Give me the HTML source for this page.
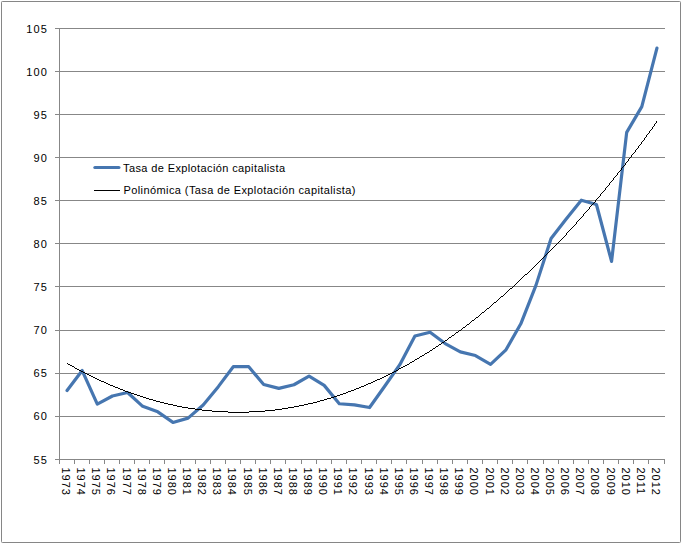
<!DOCTYPE html>
<html><head><meta charset="utf-8"><style>
html,body{margin:0;padding:0;background:#fff;}
svg{display:block;}
text{font-family:"Liberation Sans", Arial, sans-serif;font-size:11px;fill:#000000;}
</style></head><body>
<svg width="682" height="544" viewBox="0 0 682 544">
<rect x="0" y="0" width="682" height="544" fill="#fff"/>
<rect x="1.5" y="1.5" width="679" height="541" rx="0.8" fill="#fff" stroke="#868686" stroke-width="1"/>
<line x1="55" y1="28.5" x2="665.0" y2="28.5" stroke="#878787" stroke-width="1"/>
<text x="47.9" y="33" text-anchor="end" letter-spacing="1.1">105</text>
<line x1="55" y1="71.5" x2="665.0" y2="71.5" stroke="#878787" stroke-width="1"/>
<text x="47.9" y="76" text-anchor="end" letter-spacing="1.1">100</text>
<line x1="55" y1="114.5" x2="665.0" y2="114.5" stroke="#878787" stroke-width="1"/>
<text x="47.9" y="119" text-anchor="end" letter-spacing="1.1">95</text>
<line x1="55" y1="157.5" x2="665.0" y2="157.5" stroke="#878787" stroke-width="1"/>
<text x="47.9" y="162" text-anchor="end" letter-spacing="1.1">90</text>
<line x1="55" y1="200.5" x2="665.0" y2="200.5" stroke="#878787" stroke-width="1"/>
<text x="47.9" y="205" text-anchor="end" letter-spacing="1.1">85</text>
<line x1="55" y1="243.5" x2="665.0" y2="243.5" stroke="#878787" stroke-width="1"/>
<text x="47.9" y="248" text-anchor="end" letter-spacing="1.1">80</text>
<line x1="55" y1="286.5" x2="665.0" y2="286.5" stroke="#878787" stroke-width="1"/>
<text x="47.9" y="291" text-anchor="end" letter-spacing="1.1">75</text>
<line x1="55" y1="330.5" x2="665.0" y2="330.5" stroke="#878787" stroke-width="1"/>
<text x="47.9" y="334" text-anchor="end" letter-spacing="1.1">70</text>
<line x1="55" y1="373.5" x2="665.0" y2="373.5" stroke="#878787" stroke-width="1"/>
<text x="47.9" y="377" text-anchor="end" letter-spacing="1.1">65</text>
<line x1="55" y1="416.5" x2="665.0" y2="416.5" stroke="#878787" stroke-width="1"/>
<text x="47.9" y="420" text-anchor="end" letter-spacing="1.1">60</text>
<line x1="55" y1="459.5" x2="665.0" y2="459.5" stroke="#878787" stroke-width="1"/>
<text x="47.9" y="464" text-anchor="end" letter-spacing="1.1">55</text>
<line x1="59.5" y1="28.0" x2="59.5" y2="460.0" stroke="#878787" stroke-width="1"/>
<line x1="59.5" y1="459.5" x2="59.5" y2="464" stroke="#878787" stroke-width="1"/>
<line x1="74.5" y1="459.5" x2="74.5" y2="464" stroke="#878787" stroke-width="1"/>
<line x1="89.5" y1="459.5" x2="89.5" y2="464" stroke="#878787" stroke-width="1"/>
<line x1="104.5" y1="459.5" x2="104.5" y2="464" stroke="#878787" stroke-width="1"/>
<line x1="119.5" y1="459.5" x2="119.5" y2="464" stroke="#878787" stroke-width="1"/>
<line x1="134.5" y1="459.5" x2="134.5" y2="464" stroke="#878787" stroke-width="1"/>
<line x1="149.5" y1="459.5" x2="149.5" y2="464" stroke="#878787" stroke-width="1"/>
<line x1="164.5" y1="459.5" x2="164.5" y2="464" stroke="#878787" stroke-width="1"/>
<line x1="180.5" y1="459.5" x2="180.5" y2="464" stroke="#878787" stroke-width="1"/>
<line x1="195.5" y1="459.5" x2="195.5" y2="464" stroke="#878787" stroke-width="1"/>
<line x1="210.5" y1="459.5" x2="210.5" y2="464" stroke="#878787" stroke-width="1"/>
<line x1="225.5" y1="459.5" x2="225.5" y2="464" stroke="#878787" stroke-width="1"/>
<line x1="240.5" y1="459.5" x2="240.5" y2="464" stroke="#878787" stroke-width="1"/>
<line x1="255.5" y1="459.5" x2="255.5" y2="464" stroke="#878787" stroke-width="1"/>
<line x1="270.5" y1="459.5" x2="270.5" y2="464" stroke="#878787" stroke-width="1"/>
<line x1="285.5" y1="459.5" x2="285.5" y2="464" stroke="#878787" stroke-width="1"/>
<line x1="301.5" y1="459.5" x2="301.5" y2="464" stroke="#878787" stroke-width="1"/>
<line x1="316.5" y1="459.5" x2="316.5" y2="464" stroke="#878787" stroke-width="1"/>
<line x1="331.5" y1="459.5" x2="331.5" y2="464" stroke="#878787" stroke-width="1"/>
<line x1="346.5" y1="459.5" x2="346.5" y2="464" stroke="#878787" stroke-width="1"/>
<line x1="361.5" y1="459.5" x2="361.5" y2="464" stroke="#878787" stroke-width="1"/>
<line x1="376.5" y1="459.5" x2="376.5" y2="464" stroke="#878787" stroke-width="1"/>
<line x1="391.5" y1="459.5" x2="391.5" y2="464" stroke="#878787" stroke-width="1"/>
<line x1="406.5" y1="459.5" x2="406.5" y2="464" stroke="#878787" stroke-width="1"/>
<line x1="422.5" y1="459.5" x2="422.5" y2="464" stroke="#878787" stroke-width="1"/>
<line x1="437.5" y1="459.5" x2="437.5" y2="464" stroke="#878787" stroke-width="1"/>
<line x1="452.5" y1="459.5" x2="452.5" y2="464" stroke="#878787" stroke-width="1"/>
<line x1="467.5" y1="459.5" x2="467.5" y2="464" stroke="#878787" stroke-width="1"/>
<line x1="482.5" y1="459.5" x2="482.5" y2="464" stroke="#878787" stroke-width="1"/>
<line x1="497.5" y1="459.5" x2="497.5" y2="464" stroke="#878787" stroke-width="1"/>
<line x1="512.5" y1="459.5" x2="512.5" y2="464" stroke="#878787" stroke-width="1"/>
<line x1="527.5" y1="459.5" x2="527.5" y2="464" stroke="#878787" stroke-width="1"/>
<line x1="543.5" y1="459.5" x2="543.5" y2="464" stroke="#878787" stroke-width="1"/>
<line x1="558.5" y1="459.5" x2="558.5" y2="464" stroke="#878787" stroke-width="1"/>
<line x1="573.5" y1="459.5" x2="573.5" y2="464" stroke="#878787" stroke-width="1"/>
<line x1="588.5" y1="459.5" x2="588.5" y2="464" stroke="#878787" stroke-width="1"/>
<line x1="603.5" y1="459.5" x2="603.5" y2="464" stroke="#878787" stroke-width="1"/>
<line x1="618.5" y1="459.5" x2="618.5" y2="464" stroke="#878787" stroke-width="1"/>
<line x1="633.5" y1="459.5" x2="633.5" y2="464" stroke="#878787" stroke-width="1"/>
<line x1="648.5" y1="459.5" x2="648.5" y2="464" stroke="#878787" stroke-width="1"/>
<line x1="664.5" y1="459.5" x2="664.5" y2="464" stroke="#878787" stroke-width="1"/>
<text transform="translate(62.10,467.4) rotate(90)" letter-spacing="1.0">1973</text>
<text transform="translate(77.22,467.4) rotate(90)" letter-spacing="1.0">1974</text>
<text transform="translate(92.35,467.4) rotate(90)" letter-spacing="1.0">1975</text>
<text transform="translate(107.47,467.4) rotate(90)" letter-spacing="1.0">1976</text>
<text transform="translate(122.60,467.4) rotate(90)" letter-spacing="1.0">1977</text>
<text transform="translate(137.72,467.4) rotate(90)" letter-spacing="1.0">1978</text>
<text transform="translate(152.85,467.4) rotate(90)" letter-spacing="1.0">1979</text>
<text transform="translate(167.97,467.4) rotate(90)" letter-spacing="1.0">1980</text>
<text transform="translate(183.10,467.4) rotate(90)" letter-spacing="1.0">1981</text>
<text transform="translate(198.22,467.4) rotate(90)" letter-spacing="1.0">1982</text>
<text transform="translate(213.35,467.4) rotate(90)" letter-spacing="1.0">1983</text>
<text transform="translate(228.47,467.4) rotate(90)" letter-spacing="1.0">1984</text>
<text transform="translate(243.60,467.4) rotate(90)" letter-spacing="1.0">1985</text>
<text transform="translate(258.73,467.4) rotate(90)" letter-spacing="1.0">1986</text>
<text transform="translate(273.85,467.4) rotate(90)" letter-spacing="1.0">1987</text>
<text transform="translate(288.98,467.4) rotate(90)" letter-spacing="1.0">1988</text>
<text transform="translate(304.10,467.4) rotate(90)" letter-spacing="1.0">1989</text>
<text transform="translate(319.23,467.4) rotate(90)" letter-spacing="1.0">1990</text>
<text transform="translate(334.35,467.4) rotate(90)" letter-spacing="1.0">1991</text>
<text transform="translate(349.48,467.4) rotate(90)" letter-spacing="1.0">1992</text>
<text transform="translate(364.60,467.4) rotate(90)" letter-spacing="1.0">1993</text>
<text transform="translate(379.73,467.4) rotate(90)" letter-spacing="1.0">1994</text>
<text transform="translate(394.85,467.4) rotate(90)" letter-spacing="1.0">1995</text>
<text transform="translate(409.98,467.4) rotate(90)" letter-spacing="1.0">1996</text>
<text transform="translate(425.10,467.4) rotate(90)" letter-spacing="1.0">1997</text>
<text transform="translate(440.23,467.4) rotate(90)" letter-spacing="1.0">1998</text>
<text transform="translate(455.35,467.4) rotate(90)" letter-spacing="1.0">1999</text>
<text transform="translate(470.48,467.4) rotate(90)" letter-spacing="1.0">2000</text>
<text transform="translate(485.60,467.4) rotate(90)" letter-spacing="1.0">2001</text>
<text transform="translate(500.73,467.4) rotate(90)" letter-spacing="1.0">2002</text>
<text transform="translate(515.85,467.4) rotate(90)" letter-spacing="1.0">2003</text>
<text transform="translate(530.98,467.4) rotate(90)" letter-spacing="1.0">2004</text>
<text transform="translate(546.10,467.4) rotate(90)" letter-spacing="1.0">2005</text>
<text transform="translate(561.23,467.4) rotate(90)" letter-spacing="1.0">2006</text>
<text transform="translate(576.35,467.4) rotate(90)" letter-spacing="1.0">2007</text>
<text transform="translate(591.48,467.4) rotate(90)" letter-spacing="1.0">2008</text>
<text transform="translate(606.60,467.4) rotate(90)" letter-spacing="1.0">2009</text>
<text transform="translate(621.73,467.4) rotate(90)" letter-spacing="1.0">2010</text>
<text transform="translate(636.85,467.4) rotate(90)" letter-spacing="1.0">2011</text>
<text transform="translate(651.98,467.4) rotate(90)" letter-spacing="1.0">2012</text>
<polyline points="67.06,390.54 82.19,370.54 97.31,404.07 112.44,395.97 127.56,392.52 142.69,406.31 157.81,411.83 172.94,422.43 188.06,418.12 203.19,405.02 218.31,386.66 233.44,366.58 248.56,366.58 263.69,384.51 278.81,388.38 293.94,384.76 309.06,376.06 324.19,385.37 339.31,403.73 354.44,404.94 369.56,407.52 384.69,386.23 399.81,364.68 414.94,336.06 430.06,332.18 445.19,343.56 460.31,351.92 475.44,355.54 490.56,364.34 505.69,350.20 520.81,323.82 535.94,285.38 551.06,238.57 566.19,219.00 581.31,200.21 596.44,204.52 611.56,261.41 626.69,132.37 641.81,106.60 656.94,48.07" fill="none" stroke="#4676B0" stroke-width="3.2" stroke-linejoin="round" stroke-linecap="round"/>
<path d="M656 121h1v1h-1zM656 122h1v1h-1zM655 123h1v1h-1zM654 124h1v1h-1zM654 125h1v1h-1zM653 126h1v1h-1zM652 127h1v1h-1zM652 128h1v1h-1zM651 129h1v1h-1zM650 130h1v1h-1zM649 131h1v1h-1zM649 132h1v1h-1zM648 133h1v1h-1zM647 134h1v1h-1zM646 135h1v1h-1zM646 136h1v1h-1zM645 137h1v1h-1zM644 138h1v1h-1zM644 139h1v1h-1zM643 140h1v1h-1zM642 141h1v1h-1zM641 142h1v1h-1zM641 143h1v1h-1zM640 144h1v1h-1zM639 145h1v1h-1zM638 146h1v1h-1zM638 147h1v1h-1zM637 148h1v1h-1zM636 149h1v1h-1zM635 150h1v1h-1zM635 151h1v1h-1zM634 152h1v1h-1zM633 153h1v1h-1zM632 154h1v1h-1zM631 155h1v1h-1zM631 156h1v1h-1zM630 157h1v1h-1zM629 158h1v1h-1zM628 159h1v1h-1zM628 160h1v1h-1zM627 161h1v1h-1zM626 162h1v1h-1zM625 163h1v1h-1zM625 164h1v1h-1zM624 165h1v1h-1zM623 166h1v1h-1zM622 167h1v1h-1zM621 168h1v1h-1zM621 169h1v1h-1zM620 170h1v1h-1zM619 171h1v1h-1zM618 172h1v1h-1zM617 173h1v1h-1zM617 174h1v1h-1zM616 175h1v1h-1zM615 176h1v1h-1zM614 177h1v1h-1zM613 178h1v1h-1zM613 179h1v1h-1zM612 180h1v1h-1zM611 181h1v1h-1zM610 182h1v1h-1zM609 183h1v1h-1zM609 184h1v1h-1zM608 185h1v1h-1zM607 186h1v1h-1zM606 187h1v1h-1zM605 188h1v1h-1zM605 189h1v1h-1zM604 190h1v1h-1zM603 191h1v1h-1zM602 192h1v1h-1zM601 193h1v1h-1zM600 194h1v1h-1zM600 195h1v1h-1zM599 196h1v1h-1zM598 197h1v1h-1zM597 198h1v1h-1zM596 199h1v1h-1zM595 200h1v1h-1zM595 201h1v1h-1zM594 202h1v1h-1zM593 203h1v1h-1zM592 204h1v1h-1zM591 205h1v1h-1zM590 206h1v1h-1zM589 207h1v1h-1zM589 208h1v1h-1zM588 209h1v1h-1zM587 210h1v1h-1zM586 211h1v1h-1zM585 212h1v1h-1zM584 213h1v1h-1zM583 214h1v1h-1zM583 215h1v1h-1zM582 216h1v1h-1zM581 217h1v1h-1zM580 218h1v1h-1zM579 219h1v1h-1zM578 220h1v1h-1zM577 221h1v1h-1zM576 222h1v1h-1zM576 223h1v1h-1zM575 224h1v1h-1zM574 225h1v1h-1zM573 226h1v1h-1zM572 227h1v1h-1zM571 228h1v1h-1zM570 229h1v1h-1zM569 230h1v1h-1zM568 231h1v1h-1zM567 232h1v1h-1zM566 233h1v1h-1zM566 234h1v1h-1zM565 235h1v1h-1zM564 236h1v1h-1zM563 237h1v1h-1zM562 238h1v1h-1zM561 239h1v1h-1zM560 240h1v1h-1zM559 241h1v1h-1zM558 242h1v1h-1zM557 243h1v1h-1zM556 244h1v1h-1zM555 245h1v1h-1zM554 246h1v1h-1zM553 247h1v1h-1zM552 248h1v1h-1zM551 249h1v1h-1zM550 250h1v1h-1zM549 251h1v1h-1zM548 252h1v1h-1zM547 253h1v1h-1zM546 254h1v1h-1zM545 255h1v1h-1zM544 256h1v1h-1zM543 257h1v1h-1zM542 258h1v1h-1zM541 259h1v1h-1zM540 260h1v1h-1zM539 261h1v1h-1zM538 262h1v1h-1zM537 263h1v1h-1zM536 264h1v1h-1zM535 265h1v1h-1zM534 266h1v1h-1zM533 267h1v1h-1zM532 268h1v1h-1zM531 269h1v1h-1zM530 270h1v1h-1zM529 271h1v1h-1zM528 272h1v1h-1zM527 273h1v1h-1zM525 274h2v1h-2zM524 275h1v1h-1zM523 276h1v1h-1zM522 277h1v1h-1zM521 278h1v1h-1zM520 279h1v1h-1zM519 280h1v1h-1zM518 281h1v1h-1zM517 282h1v1h-1zM516 283h1v1h-1zM515 284h1v1h-1zM514 285h1v1h-1zM513 286h1v1h-1zM512 287h1v1h-1zM510 288h2v1h-2zM509 289h1v1h-1zM508 290h1v1h-1zM507 291h1v1h-1zM506 292h1v1h-1zM505 293h1v1h-1zM504 294h1v1h-1zM503 295h1v1h-1zM501 296h2v1h-2zM500 297h1v1h-1zM499 298h1v1h-1zM498 299h1v1h-1zM497 300h1v1h-1zM496 301h1v1h-1zM494 302h2v1h-2zM493 303h1v1h-1zM492 304h1v1h-1zM491 305h1v1h-1zM490 306h1v1h-1zM489 307h1v1h-1zM487 308h2v1h-2zM486 309h1v1h-1zM485 310h1v1h-1zM484 311h1v1h-1zM482 312h2v1h-2zM481 313h1v1h-1zM480 314h1v1h-1zM479 315h1v1h-1zM478 316h1v1h-1zM476 317h2v1h-2zM475 318h1v1h-1zM474 319h1v1h-1zM472 320h2v1h-2zM471 321h1v1h-1zM470 322h1v1h-1zM469 323h1v1h-1zM467 324h2v1h-2zM466 325h1v1h-1zM465 326h1v1h-1zM463 327h2v1h-2zM462 328h1v1h-1zM461 329h1v1h-1zM459 330h2v1h-2zM458 331h1v1h-1zM456 332h2v1h-2zM455 333h1v1h-1zM454 334h1v1h-1zM452 335h2v1h-2zM451 336h1v1h-1zM449 337h2v1h-2zM448 338h1v1h-1zM447 339h1v1h-1zM445 340h2v1h-2zM444 341h1v1h-1zM442 342h2v1h-2zM441 343h1v1h-1zM439 344h2v1h-2zM438 345h1v1h-1zM436 346h2v1h-2zM435 347h1v1h-1zM433 348h2v1h-2zM432 349h1v1h-1zM430 350h2v1h-2zM429 351h1v1h-1zM427 352h2v1h-2zM425 353h2v1h-2zM424 354h1v1h-1zM422 355h2v1h-2zM420 356h2v1h-2zM419 357h1v1h-1zM417 358h2v1h-2zM415 359h2v1h-2zM414 360h1v1h-1zM412 361h2v1h-2zM410 362h2v1h-2zM67 363h1v1h-1zM409 363h1v1h-1zM68 364h2v1h-2zM407 364h2v1h-2zM70 365h2v1h-2zM405 365h2v1h-2zM72 366h2v1h-2zM403 366h2v1h-2zM74 367h1v1h-1zM401 367h2v1h-2zM75 368h2v1h-2zM399 368h2v1h-2zM77 369h2v1h-2zM398 369h1v1h-1zM79 370h2v1h-2zM396 370h2v1h-2zM81 371h2v1h-2zM394 371h2v1h-2zM83 372h2v1h-2zM392 372h2v1h-2zM85 373h2v1h-2zM390 373h2v1h-2zM87 374h2v1h-2zM388 374h2v1h-2zM89 375h2v1h-2zM386 375h2v1h-2zM91 376h2v1h-2zM384 376h2v1h-2zM93 377h2v1h-2zM382 377h2v1h-2zM95 378h2v1h-2zM380 378h2v1h-2zM97 379h2v1h-2zM377 379h3v1h-3zM99 380h2v1h-2zM375 380h2v1h-2zM101 381h3v1h-3zM373 381h2v1h-2zM104 382h2v1h-2zM371 382h2v1h-2zM106 383h2v1h-2zM368 383h3v1h-3zM108 384h2v1h-2zM366 384h2v1h-2zM110 385h3v1h-3zM364 385h2v1h-2zM113 386h2v1h-2zM361 386h3v1h-3zM115 387h3v1h-3zM359 387h2v1h-2zM118 388h2v1h-2zM356 388h3v1h-3zM120 389h3v1h-3zM354 389h2v1h-2zM123 390h2v1h-2zM351 390h3v1h-3zM125 391h3v1h-3zM348 391h3v1h-3zM128 392h3v1h-3zM346 392h2v1h-2zM131 393h3v1h-3zM343 393h3v1h-3zM134 394h3v1h-3zM340 394h3v1h-3zM137 395h3v1h-3zM337 395h3v1h-3zM140 396h3v1h-3zM334 396h3v1h-3zM143 397h3v1h-3zM331 397h3v1h-3zM146 398h3v1h-3zM327 398h4v1h-4zM149 399h4v1h-4zM324 399h3v1h-3zM153 400h3v1h-3zM320 400h4v1h-4zM156 401h4v1h-4zM317 401h3v1h-3zM160 402h4v1h-4zM313 402h4v1h-4zM164 403h4v1h-4zM308 403h5v1h-5zM168 404h5v1h-5zM304 404h4v1h-4zM173 405h4v1h-4zM299 405h5v1h-5zM177 406h5v1h-5zM294 406h5v1h-5zM182 407h6v1h-6zM288 407h6v1h-6zM188 408h7v1h-7zM282 408h6v1h-6zM195 409h7v1h-7zM275 409h7v1h-7zM202 410h10v1h-10zM265 410h10v1h-10zM212 411h16v1h-16zM249 411h16v1h-16zM228 412h21v1h-21z" fill="#000" shape-rendering="crispEdges"/>
<line x1="94.9" y1="167.5" x2="118.9" y2="167.5" stroke="#4676B0" stroke-width="3.2" stroke-linecap="round"/>
<line x1="94" y1="190.5" x2="120" y2="190.5" stroke="#000" stroke-width="1" shape-rendering="crispEdges"/>
<text x="123" y="172" textLength="162" lengthAdjust="spacing">Tasa de Explotación capitalista</text>
<text x="123.5" y="194" textLength="232" lengthAdjust="spacing">Polinómica (Tasa de Explotación capitalista)</text>
</svg>
</body></html>
